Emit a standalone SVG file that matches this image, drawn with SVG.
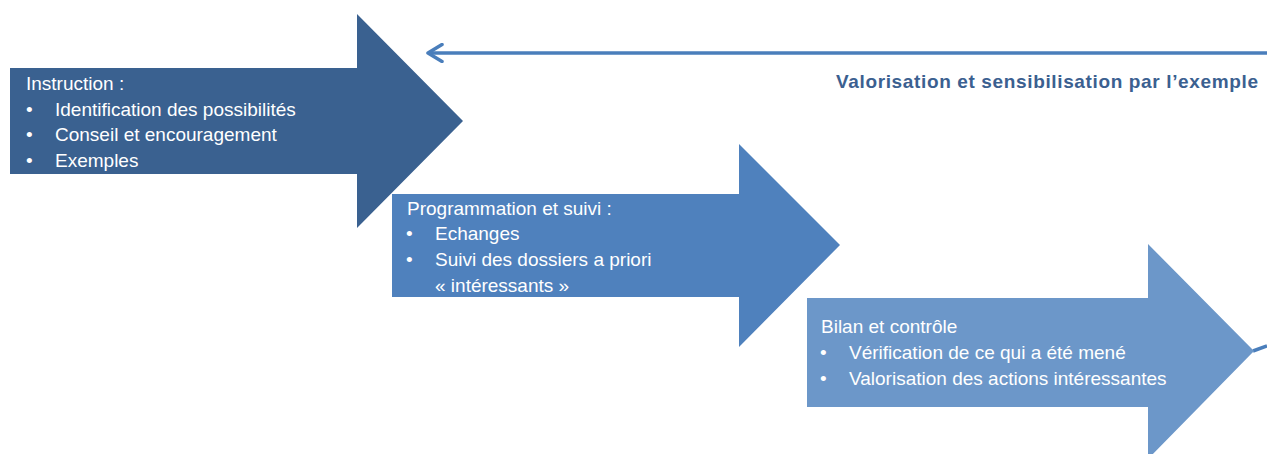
<svg xmlns="http://www.w3.org/2000/svg" width="1267" height="454" viewBox="0 0 1267 454">
  <style>
    .lbl { font-family: "Liberation Sans", Arial, sans-serif; font-size: 19px; fill: #ffffff; }
    .note { font-family: "Liberation Sans", Arial, sans-serif; font-size: 19px; font-weight: bold; fill: #3b6090; }
    .wire { fill: none; stroke: #4a7ebb; stroke-width: 3.5; }
  </style>
  <defs>
    <!-- open chevron head for the feedback connector -->
    <marker id="open" viewBox="0 0 18 20" refX="16" refY="10" markerWidth="18" markerHeight="20" orient="auto" markerUnits="userSpaceOnUse">
      <path d="M2,1.5 L16,10 L2,18.5" fill="none" stroke="#4a7ebb" stroke-width="3.5" stroke-linecap="round" stroke-linejoin="round"/>
    </marker>
  </defs>
  <rect width="1267" height="454" fill="#ffffff"/>

  <g id="connectors">
    <path class="wire" d="M1267,53 L428,53" marker-end="url(#open)"/>
    <path class="wire" d="M1253,351 L1267,346"/>
  </g>

  <g id="step-instruction">
    <polygon points="10,68 357,68 357,14 463,121 357,228 357,174 10,174" fill="#3a6190"/>
    <text class="lbl" x="26" y="90">Instruction :</text>
    <text class="lbl" x="26" y="115.5">•</text><text class="lbl" x="55" y="115.5">Identification des possibilités</text>
    <text class="lbl" x="26" y="141">•</text><text class="lbl" x="55" y="141">Conseil et encouragement</text>
    <text class="lbl" x="26" y="166.5">•</text><text class="lbl" x="55" y="166.5">Exemples</text>
  </g>

  <g id="step-programmation">
    <polygon points="392,194 739,194 739,144 840,245 739,347 739,297 392,297" fill="#4f81bd"/>
    <text class="lbl" x="407" y="215">Programmation et suivi :</text>
    <text class="lbl" x="406" y="240">•</text><text class="lbl" x="435" y="240">Echanges</text>
    <text class="lbl" x="406" y="266">•</text><text class="lbl" x="435" y="266">Suivi des dossiers a priori</text>
    <text class="lbl" x="435" y="291.5">« intéressants »</text>
  </g>

  <g id="step-bilan">
    <polygon points="807,298 1148,298 1148,244 1254,351 1148,459 1148,407 807,407" fill="#6c97c9"/>
    <text class="lbl" x="821" y="333">Bilan et contrôle</text>
    <text class="lbl" x="820" y="359">•</text><text class="lbl" x="849" y="359">Vérification de ce qui a été mené</text>
    <text class="lbl" x="820" y="385">•</text><text class="lbl" x="849" y="385">Valorisation des actions intéressantes</text>
  </g>

  <g id="label-valorisation">
    <text class="note" x="1258" y="88" text-anchor="end" textLength="422" lengthAdjust="spacing">Valorisation et sensibilisation par l’exemple</text>
  </g>
</svg>
